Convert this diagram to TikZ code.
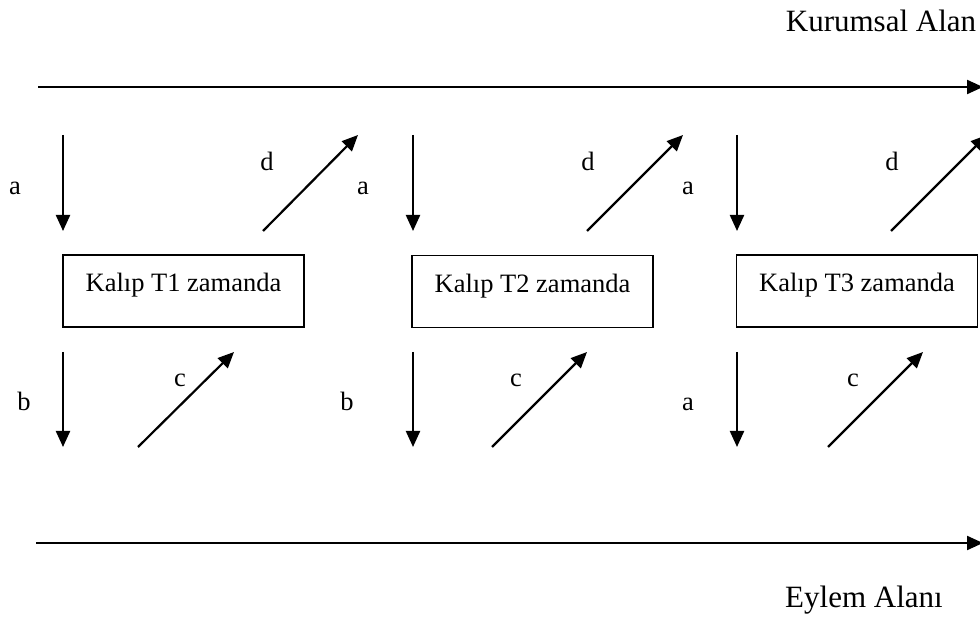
\documentclass[tikz,border=0pt]{standalone}
\usepackage{fontspec}
\setmainfont{Liberation Serif}
\usetikzlibrary{arrows.meta}
\begin{document}
\begin{tikzpicture}[x=1pt,y=-1pt,
  flow/.style={line width=2.2pt,-{Triangle[length=16pt,width=14pt]}},
  stage/.style={draw,line width=1.7pt,minimum width=241pt,minimum height=72pt,
    inner sep=0pt,font=\fontsize{26.5}{30}\selectfont,text height=14pt,text depth=12pt},
  lbl/.style={anchor=base,inner sep=0pt,font=\fontsize{26.5}{30}\selectfont},
  area/.style={anchor=base,inner sep=0pt,font=\fontsize{31}{36}\selectfont}]
\useasboundingbox (0,0) rectangle (980,617);
\clip (0,0) rectangle (980,617);

% the two domains
\node[area] (kurumsal) at (881,32) {Kurumsal Alan};
\node[area] (eylem) at (864,607) {Eylem Alanı};
\coordinate (kA) at (38,87);  \coordinate (kB) at (983,87);
\coordinate (eA) at (36,543); \coordinate (eB) at (983,543);
\draw[flow] (kA) -- (kB);
\draw[flow] (eA) -- (eB);

% pattern boxes
\node[stage] (t1) at (183.5,291) {Kalıp T1 zamanda};
\node[stage] (t2) at (532.5,291.5) {Kalıp T2 zamanda};
\node[stage] (t3) at (857,291) {Kalıp T3 zamanda};

% stage 1 arrows
\coordinate (a1s) at (63,135);  \coordinate (a1e) at (63,231);
\coordinate (d1s) at (263,231); \coordinate (d1e) at (358,135);
\coordinate (b1s) at (63,352);  \coordinate (b1e) at (63,447);
\coordinate (c1s) at (138,447); \coordinate (c1e) at (234,352);
\draw[flow] (a1s) -- (a1e);
\draw[flow] (d1s) -- (d1e);
\draw[flow] (b1s) -- (b1e);
\draw[flow] (c1s) -- (c1e);
\node[lbl] (la1) at (15,195) {a};
\node[lbl] (ld1) at (267,171) {d};
\node[lbl] (lb1) at (24,411) {b};
\node[lbl] (lc1) at (180,387) {c};

% stage 2 arrows
\coordinate (a2s) at (413,135); \coordinate (a2e) at (413,231);
\coordinate (d2s) at (587,231); \coordinate (d2e) at (683,135);
\coordinate (b2s) at (413,352); \coordinate (b2e) at (413,447);
\coordinate (c2s) at (492,447); \coordinate (c2e) at (587,352);
\draw[flow] (a2s) -- (a2e);
\draw[flow] (d2s) -- (d2e);
\draw[flow] (b2s) -- (b2e);
\draw[flow] (c2s) -- (c2e);
\node[lbl] (la2) at (363,195) {a};
\node[lbl] (ld2) at (588,171) {d};
\node[lbl] (lb2) at (347,411) {b};
\node[lbl] (lc2) at (516,387) {c};

% stage 3 arrows
\coordinate (a3s) at (737,135); \coordinate (a3e) at (737,231);
\coordinate (d3s) at (891,231); \coordinate (d3e) at (987,135);
\coordinate (b3s) at (737,352); \coordinate (b3e) at (737,447);
\coordinate (c3s) at (828,447); \coordinate (c3e) at (923,352);
\draw[flow] (a3s) -- (a3e);
\draw[flow] (d3s) -- (d3e);
\draw[flow] (b3s) -- (b3e);
\draw[flow] (c3s) -- (c3e);
\node[lbl] (la3) at (688,195) {a};
\node[lbl] (ld3) at (892,171) {d};
\node[lbl] (lb3) at (688,411) {a};
\node[lbl] (lc3) at (853,387) {c};
\end{tikzpicture}
\end{document}
